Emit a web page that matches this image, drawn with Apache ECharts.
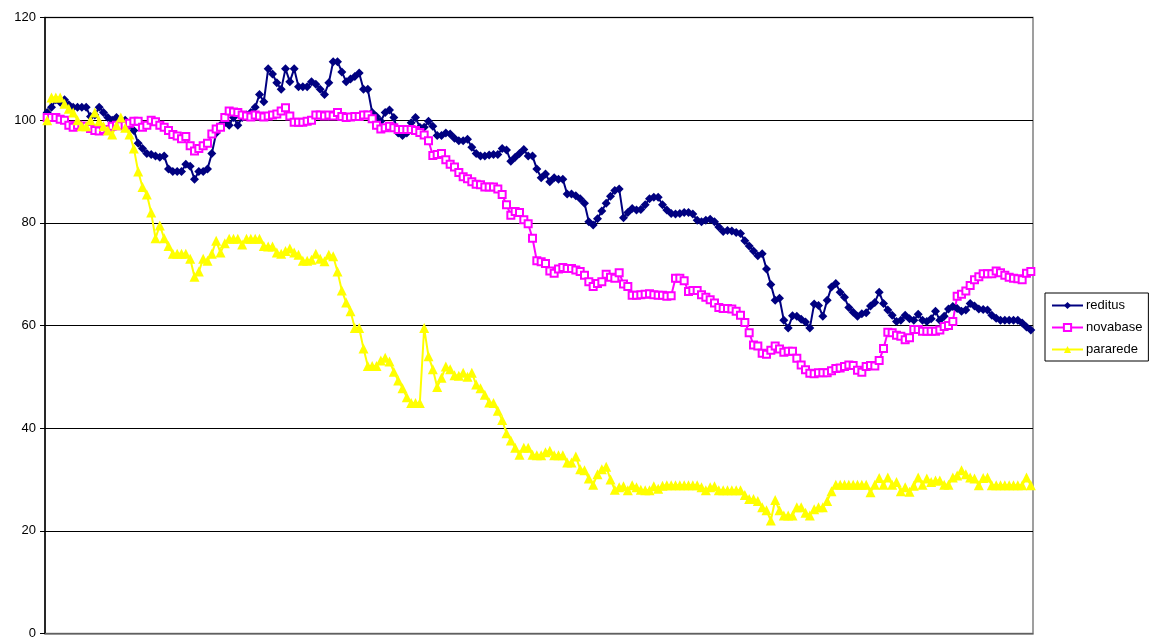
<!DOCTYPE html>
<html>
<head>
<meta charset="utf-8">
<script src="https://cdn.jsdelivr.net/npm/echarts@6/dist/echarts.min.js"></script>
<style>html,body{margin:0;padding:0;background:#fff}#c{width:1159px;height:640px}</style>
</head>
<body>
<div id="c"></div>
<script>
const seriesNames = ['reditus', 'novabase', 'pararede'];
const yTicks = [0, 20, 40, 60, 80, 100, 120];

const reditus = [101.5,102.5,104,103.5,104,103,102.5,102.5,102.5,102.5,
100.7,101,102.5,101.5,100.5,100,100.5,100,100,99,
98,95.5,94.5,93.5,93.3,93,92.8,93,90.5,90,
90,90,91.4,91,88.5,90,90,90.5,93.5,97.5,
99,99.5,99,100.5,99,100.5,101,101.5,102.5,105,
103.6,110,109,107.3,106,110,107.5,110,106.5,106.5,
106.5,107.5,107,106,105,107.3,111.4,111.4,109.4,107.5,
108,108.5,109.2,106,106,101.5,100.7,99.8,101.5,102,
100.5,97.5,97,97.5,99.5,100.5,98.6,98.6,99.8,98.8,
97,97,97.5,97.3,96.5,96,96,96.3,94.7,93.5,
93,93,93.2,93.3,93.3,94.5,94.2,92,92.8,93.5,
94.3,93,93,90.5,88.8,89.5,88,88.8,88.5,88.5,
85.6,85.6,85.3,84.7,83.8,80.2,79.6,80.8,82.3,83.8,
85.2,86.3,86.6,81,82,82.8,82.5,82.6,83.5,84.7,
85,85,83.5,82.5,81.8,81.7,81.8,82,82,81.7,
80.5,80.2,80.5,80.7,80.2,79.2,78.3,78.5,78.4,78.1,
77.9,76.5,75.5,74.5,73.6,74,71,68,64.9,65.3,
61,59.5,61.9,61.8,61.2,60.7,59.5,64.2,63.9,61.8,
64.9,67.5,68.2,66.5,65.5,63.5,62.6,61.8,62.3,62.5,
63.8,64.5,66.5,64.3,63,62,60.8,61,62,61.3,
61,62.2,61,60.8,61.3,62.8,61,61.8,63.2,63.7,
63.3,62.8,63,64.3,63.8,63.2,63.1,63,62,61.4,
61,61,61,61,61,60.5,59.7,59.1];

const novabase = [100.5,100.5,100.5,100.2,100,99,98.6,99,98.8,98.8,
98.4,98,97.9,98.2,98.2,98.8,99,98.9,99,99.4,
99.8,99.8,98.6,99,100,99.7,99,98.6,98,97.2,
96.9,96.4,96.8,95,94,94.5,95,95.5,97.3,98.3,
98.6,100.5,101.8,101.6,101.5,101,100.8,100.6,101,100.8,
100.6,100.8,101,101.2,101.8,102.4,100.8,99.6,99.6,99.6,
99.8,100,101,101,100.8,101,100.8,101.5,100.7,100.5,
100.6,100.7,100.7,101,101,100.3,99,98.3,98.5,98.8,
98.5,98.2,98.2,98.2,98.2,98,97.6,97.1,96,93.1,
93.3,93.5,92.3,91.4,90.9,89.8,89,88.6,88,87.5,
87.4,87,87,87,86.6,85.5,83.5,81.5,82.2,82,
80.6,79.8,77,72.6,72.4,72.1,70.6,70.2,71,71.3,
71.1,71.1,70.8,70.5,69.8,68.5,67.6,68.2,68.5,70,
69.4,69.2,70.3,68.1,67.6,65.9,65.9,66,66.1,66.2,
66,65.9,65.9,65.7,65.8,69.2,69.2,68.7,66.6,66.8,
66.8,66,65.5,65,64.4,63.5,63.3,63.3,63.2,62.8,
62,60.6,58.6,56.2,56,54.6,54.4,55.2,56,55.4,
54.8,55,55,53.6,52.3,51.4,50.7,50.6,50.8,50.8,
50.8,51.2,51.6,51.7,52,52.3,52.2,51.3,50.9,52,
52.2,52.1,53.2,55.5,58.7,58.6,58.1,57.9,57.2,57.6,
59.2,59.2,58.9,58.9,58.9,58.9,59.1,59.8,60,60.8,
65.7,66.1,66.7,67.8,68.9,69.5,70.1,70.1,70.1,70.6,
70.3,69.8,69.4,69.2,69.1,68.9,70.2,70.5];

const pararede = [100,104.4,104.4,104.4,103.2,102.2,101.5,100,98.8,98.8,
100,101.5,99.8,98.8,98,97.2,99,100.5,98.5,97.2,
94.5,90,87,85.5,82,77,79.5,77,75.5,74,
74,74,74,73,69.5,70.5,73,72.6,74,76.5,
74.2,76,76.9,76.9,76.9,75.8,76.9,76.9,76.9,76.9,
75.5,75.4,75.4,74.2,74,74.5,75,74.2,73.8,72.6,
72.6,72.8,74,73,72.5,73.8,73.5,70.5,66.8,64.5,
62.8,59.5,59.5,55.5,52.1,52.1,52.1,53.2,53.7,53,
51,49.3,47.8,46,44.9,44.9,44.9,59.5,54,51.5,
48,49.8,52,51.5,50.3,50.2,50.8,50,50.8,48.5,
47.8,46.5,45,44.9,43.4,41.6,39,37.6,36.2,34.8,
36.2,36.2,34.8,34.7,34.7,35.3,35.6,34.7,34.7,34.7,
33.3,33.3,34.5,32,31.8,30.2,29,31,32,32.5,
30,28,28.5,28.7,27.9,28.9,28.5,28,27.9,27.9,
28.7,28.2,28.8,28.9,28.9,28.9,28.9,28.9,28.9,28.9,
28.9,28.5,27.9,28.5,28.7,27.9,27.9,27.9,27.9,27.9,
27.9,27,26.2,26.2,25.8,24.6,24,22,26,24,
23,23,23,24.6,24.6,23.5,23,24.2,24.6,24.6,
25.8,27.7,29,29,29,29,29,29,29,29,
27.5,29,30.3,29,30.4,29,29.5,27.7,28.5,27.6,
28.8,30.4,29,30.2,29.5,29.8,29.8,29,29,30.4,
30.8,31.8,31,30.4,30.2,28.9,30.3,30.4,28.9,28.9,
28.9,28.9,28.9,28.9,28.9,28.9,30.4,28.9];

const categories = reditus.map((_, i) => String(i + 1));

const chart = echarts.init(document.getElementById('c'), null, {renderer: 'canvas'});
const font = 'Arial, "Liberation Sans", sans-serif';
chart.setOption({
  animation: false,
  backgroundColor: '#ffffff',
  grid: {left: 45, right: 126, top: 17.5, bottom: 3, show: true, borderColor: '#808080', borderWidth: 1.5, backgroundColor: 'transparent'},
  legend: {
    data: seriesNames,
    orient: 'vertical',
    left: 1045,
    top: 293,
    padding: [6, 6, 5, 6],
    itemGap: 9,
    itemWidth: 31,
    itemHeight: 9,
    borderColor: '#000',
    borderWidth: 1,
    textStyle: {fontFamily: font, fontSize: 13, color: '#000', padding: [0, 0, 0, -2]}
  },
  xAxis: {
    type: 'category',
    data: categories,
    boundaryGap: true,
    axisLine: {show: true, lineStyle: {color: '#808080', width: 1.5}},
    axisTick: {show: false},
    axisLabel: {show: false},
    splitLine: {show: false}
  },
  yAxis: {
    type: 'value',
    min: 0, max: 120, interval: 20,
    axisLine: {show: true, lineStyle: {color: '#000', width: 1.5}},
    axisTick: {show: true, length: 5, lineStyle: {color: '#000', width: 1}},
    axisLabel: {show: true, fontFamily: font, fontSize: 13, color: '#000', margin: 9,
      formatter: v => yTicks.includes(v) ? String(v) : ''},
    splitLine: {show: true, lineStyle: {color: '#000', width: 1.2}}
  },
  series: [
    {name: seriesNames[0], type: 'line', data: reditus, symbol: 'diamond', symbolSize: 9, showAllSymbol: true,
      lineStyle: {color: '#000080', width: 2}, itemStyle: {color: '#000080'}},
    {name: seriesNames[1], type: 'line', data: novabase, symbol: 'emptyRect', symbolSize: 7, showAllSymbol: true,
      lineStyle: {color: '#FF00FF', width: 2}, itemStyle: {color: '#FF00FF', borderColor: '#FF00FF', borderWidth: 2}},
    {name: seriesNames[2], type: 'line', data: pararede, symbol: 'triangle', symbolSize: 10, showAllSymbol: true,
      lineStyle: {color: '#FFFF00', width: 2}, itemStyle: {color: '#FFFF00'}}
  ]
});
</script>
</body>
</html>
